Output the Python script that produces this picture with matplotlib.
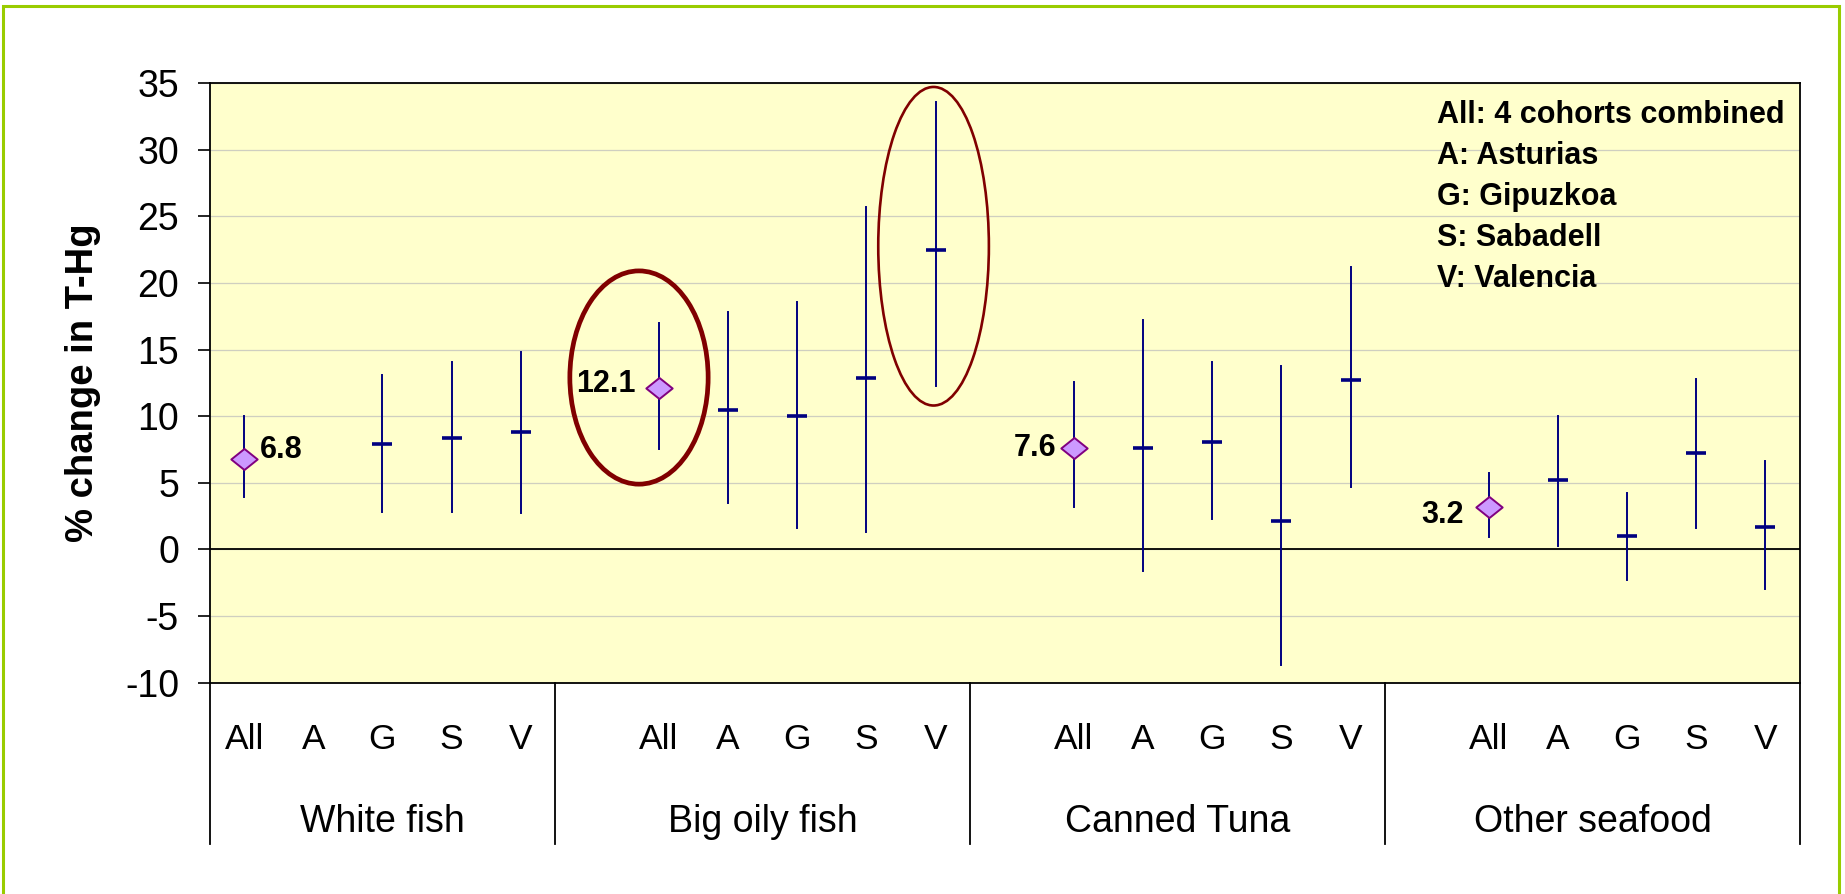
import numpy as np
import matplotlib
matplotlib.use("Agg")
import matplotlib.pyplot as plt
from matplotlib.patches import Ellipse, Rectangle
from matplotlib.path import Path

plt.rcParams['font.family'] = ['Liberation Sans', 'DejaVu Sans']
plt.rcParams['axes.unicode_minus'] = False

# data (% change in T-Hg, estimate with 95% CI)
groups = ['White fish', 'Big oily fish', 'Canned Tuna', 'Other seafood']
cohorts = ['All', 'A', 'G', 'S', 'V']
nan = np.nan

white_est = [6.8, nan, 7.9, 8.4, 8.8]
white_lo = [3.9, nan, 2.8, 2.8, 2.7]
white_hi = [10.0, nan, 13.1, 14.1, 14.8]

oily_est = [12.1, 10.5, 10.0, 12.9, 22.5]
oily_lo = [7.5, 3.5, 1.6, 1.3, 12.3]
oily_hi = [17.0, 17.8, 18.6, 25.7, 33.6]

tuna_est = [7.6, 7.6, 8.1, 2.1, 12.7]
tuna_lo = [3.2, -1.6, 2.3, -8.7, 4.7]
tuna_hi = [12.6, 17.2, 14.1, 13.8, 21.2]

other_est = [3.2, 5.2, 1.0, 7.2, 1.7]
other_lo = [0.95, 0.25, -2.3, 1.6, -3.0]
other_hi = [5.7, 10.0, 4.2, 12.8, 6.6]

legend_lines = ['All: 4 cohorts combined', 'A: Asturias', 'G: Gipuzkoa',
                'S: Sabadell', 'V: Valencia']

est = [white_est, oily_est, tuna_est, other_est]
lo = [white_lo, oily_lo, tuna_lo, other_lo]
hi = [white_hi, oily_hi, tuna_hi, other_hi]

# label offsets (points) for the "All" values
label_offsets = [(11, 6, 'left'), (-17, 3, 'right'), (-13, 0, 'right'), (-18, -6, 'right')]

navy = '#000080'
diamond = Path([(-1, 0), (0, 0.8), (1, 0), (0, -0.8), (-1, 0)],
               [Path.MOVETO, Path.LINETO, Path.LINETO, Path.LINETO, Path.CLOSEPOLY])

fig = plt.figure(figsize=(18.45, 8.94), dpi=100)
fig.patches.append(Rectangle((0.0015, -0.05), 0.9955, 1.043, transform=fig.transFigure,
                             fill=False, edgecolor='#99CC00', linewidth=2.2))
ax = fig.add_axes([0.1136, 0.2363, 0.862, 0.6709])
ax.set_facecolor('#FFFFCC')

def slot(g, i):
    return g * 6 + i

for g in range(len(groups)):
    for i in range(len(cohorts)):
        e = est[g][i]
        if np.isnan(e):
            continue
        x = slot(g, i)
        ax.plot([x, x], [lo[g][i], hi[g][i]], color=navy, lw=1.4, zorder=3)
        if i == 0:
            ax.plot(x, e, marker=diamond, ms=19, mfc='#CC99FF', mec='#800080',
                    mew=1.4, ls='none', zorder=4)
            dx, dy, ha = label_offsets[g]
            ax.annotate(f'{e:.1f}', (x, e), xytext=(dx, dy), textcoords='offset points',
                        ha=ha, va='center', fontsize=22, fontweight='bold')
        else:
            ax.plot(x, e, marker='_', ms=15, mew=2.6, color=navy, ls='none', zorder=4)

# highlight ellipses around Big oily fish All and V
circled = [(1, 0, -0.29, 2.0, 2.6, 3.9, 3.4), (1, 4, -0.03, 1.6, 1.5, 1.1, 1.9)]
for g, i, xs, w, pad_lo, pad_hi, lw in circled:
    y0 = lo[g][i] - pad_lo
    y1 = hi[g][i] + pad_hi
    ax.add_patch(Ellipse((slot(g, i) + xs, (y0 + y1) / 2), w, y1 - y0, fill=False,
                         edgecolor='#800000', lw=lw, zorder=5))

ax.set_xlim(-0.5, 22.5)
ax.set_ylim(-10, 35)
ax.set_yticks(np.arange(-10, 36, 5))
ax.tick_params(axis='y', direction='out', length=9, width=1.2, labelsize=27, pad=13)
ax.set_xticks([])
ax.yaxis.grid(True, color='#CFCFC0', lw=0.9)
ax.set_axisbelow(True)
ax.axhline(0, color='black', lw=1.3, zorder=2)
for s in ax.spines.values():
    s.set_color('black')
    s.set_linewidth(1.3)

ax.set_ylabel('% change in T-Hg', fontsize=27.5, fontweight='bold')
ax.yaxis.set_label_coords(-0.068, 0.5)

# multi-level category axis
trans = ax.get_xaxis_transform()
for b in [-0.5, 4.5, 10.5, 16.5, 22.5]:
    ax.plot([b, b], [0, -0.269], color='black', lw=1.3, transform=trans, clip_on=False)
for g, name in enumerate(groups):
    for i, c in enumerate(cohorts):
        ax.text(slot(g, i), -0.094, c, transform=trans, ha='center', va='center', fontsize=25.5)
    left = -0.5 if g == 0 else slot(g, 0) - 1.5
    ax.text((left + slot(g, 0) + 4.5) / 2, -0.233, name, transform=trans,
            ha='center', va='center', fontsize=27)

for k, line in enumerate(legend_lines):
    ax.text(0.772, 0.947 - k * 0.0683, line, transform=ax.transAxes, ha='left',
            va='center', fontsize=22, fontweight='bold', clip_on=True)

fig.savefig('out.png', dpi=100)
